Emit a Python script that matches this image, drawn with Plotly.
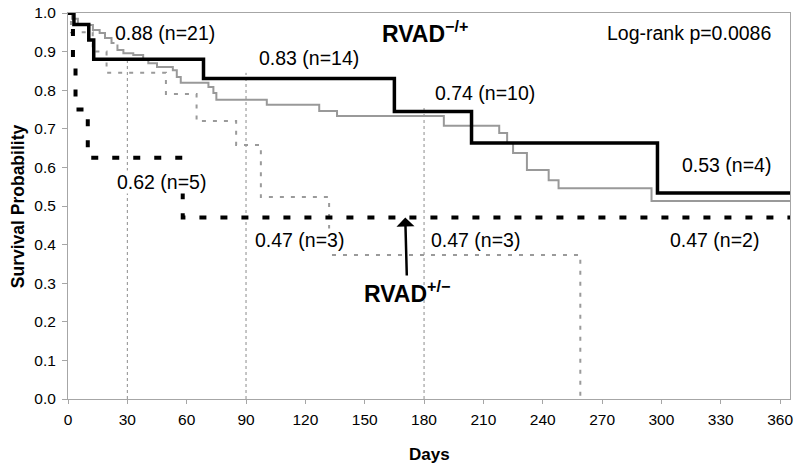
import plotly.graph_objects as go

# ---- data ----
solid_black_days = [0, 3, 10.5, 13, 68.5, 165, 204, 298, 365]
solid_black_surv = [1.0, 0.97, 0.93, 0.88, 0.83, 0.745, 0.663, 0.534, 0.534]

solid_gray_days = [0, 2, 5, 12.6, 16, 18.7, 22, 25, 28, 33, 38, 40.6, 45, 53, 55, 57, 71, 73.5, 75,
                   100.5, 127, 136, 190, 218, 222, 225, 232, 243, 248, 295, 365]
solid_gray_surv = [1.0, 0.985, 0.969, 0.956, 0.948, 0.935, 0.922, 0.904, 0.896, 0.891, 0.878, 0.870, 0.860,
                   0.852, 0.834, 0.819, 0.808, 0.793, 0.775, 0.762, 0.746, 0.733, 0.708, 0.689, 0.663,
                   0.637, 0.593, 0.567, 0.546, 0.513, 0.513]

dash_black_days = [0, 2.5, 3.8, 10, 58, 365]
dash_black_surv = [1.0, 0.875, 0.75, 0.625, 0.47, 0.47]

dash_gray_days = [0, 1.5, 12.5, 19.5, 49.5, 65, 85, 97.5, 132, 259, 259]
dash_gray_surv = [1.0, 0.95, 0.90, 0.845, 0.79, 0.72, 0.658, 0.523, 0.373, 0.373, 0.0]

ref_days = [30, 90, 180]
ref_tops = [0.878, 0.845, 0.754]

labels = ["0.88 (n=21)", "0.83 (n=14)", "0.74 (n=10)", "0.53 (n=4)",
          "0.62 (n=5)", "0.47 (n=3)", "0.47 (n=3)", "0.47 (n=2)"]
label_days = [49, 122, 211, 333, 47.5, 117, 206, 327]
label_vals = [0.948, 0.883, 0.793, 0.606, 0.562, 0.412, 0.412, 0.412]

x_ticks = list(range(0, 361, 30))
y_ticks = [round(i * 0.1, 1) for i in range(11)]

FONT = "Liberation Sans, Arial, sans-serif"

fig = go.Figure()

for d, t in zip(ref_days, ref_tops):
    fig.add_trace(go.Scatter(x=[d, d], y=[0, t], mode="lines",
                             line=dict(color="#8c8c8c", width=1, dash="3px,3px"),
                             showlegend=False, hoverinfo="skip"))

fig.add_trace(go.Scatter(x=dash_gray_days, y=dash_gray_surv, mode="lines", line_shape="hv",
                         line=dict(color="#9a9a9a", width=2, dash="4px,7px"), showlegend=False))
fig.add_trace(go.Scatter(x=solid_gray_days, y=solid_gray_surv, mode="lines", line_shape="hv",
                         line=dict(color="#999999", width=2), showlegend=False))
fig.add_trace(go.Scatter(x=dash_black_days, y=dash_black_surv, mode="lines", line_shape="hv",
                         line=dict(color="black", width=4, dash="7px,14px"), showlegend=False))
fig.add_trace(go.Scatter(x=solid_black_days, y=solid_black_surv, mode="lines", line_shape="hv",
                         line=dict(color="black", width=3.5), showlegend=False))

for txt, d, v in zip(labels, label_days, label_vals):
    fig.add_annotation(x=d, y=v, text=txt, showarrow=False, bgcolor="white", borderpad=0,
                       font=dict(family=FONT, size=19.5, color="black"))

fig.add_annotation(x=314, y=0.948, text="Log-rank p=0.0086", showarrow=False,
                   font=dict(family=FONT, size=19.5, color="black"))
fig.add_annotation(x=180.5, y=0.952, text="<b>RVAD<sup>−/+</sup></b>", showarrow=False,
                   font=dict(family=FONT, size=23, color="black"))
fig.add_annotation(x=170.5, y=0.47, ax=171.5, ay=0.277, axref="x", ayref="y",
                   text="<b>RVAD<sup>+/−</sup></b>", showarrow=True,
                   arrowhead=1, arrowsize=1.2, arrowwidth=2.5, arrowcolor="black",
                   font=dict(family=FONT, size=23, color="black"))

fig.add_annotation(xref="paper", yref="paper", x=0.5, y=-0.1425, text="<b>Days</b>",
                   xanchor="center", yanchor="middle",
                   showarrow=False, font=dict(family=FONT, size=17, color="black"))
fig.add_annotation(xref="paper", yref="paper", x=-0.069, y=0.5, text="<b>Survival Probability</b>",
                   xanchor="center", yanchor="middle",
                   textangle=-90, showarrow=False, font=dict(family=FONT, size=17.5, color="black"))

fig.update_xaxes(range=[0, 365], tickvals=x_ticks, showgrid=False, zeroline=False, automargin=False,
                 showline=True, linecolor="#a6a6a6", linewidth=1, mirror=True,
                 ticks="outside", ticklen=4, tickcolor="#a6a6a6", ticklabelstandoff=2,
                 tickfont=dict(family=FONT, size=15.5, color="black"))
fig.update_yaxes(range=[0, 1], tickvals=y_ticks, tickformat=".1f", showgrid=False, zeroline=False,
                 automargin=False,
                 showline=True, linecolor="#a6a6a6", linewidth=1, mirror=True,
                 ticks="outside", ticklen=5, tickcolor="#a6a6a6", ticklabelstandoff=3,
                 tickfont=dict(family=FONT, size=15.5, color="black"))

fig.update_layout(width=800, height=470, margin=dict(l=68, r=10, t=13, b=71),
                  plot_bgcolor="white", paper_bgcolor="white")

# remove the browser's default 8px page margin so the figure fills the 800x470 window exactly
fig.write_html("out.html", config={"displayModeBar": False},
               post_script="document.body.style.margin='0';")
